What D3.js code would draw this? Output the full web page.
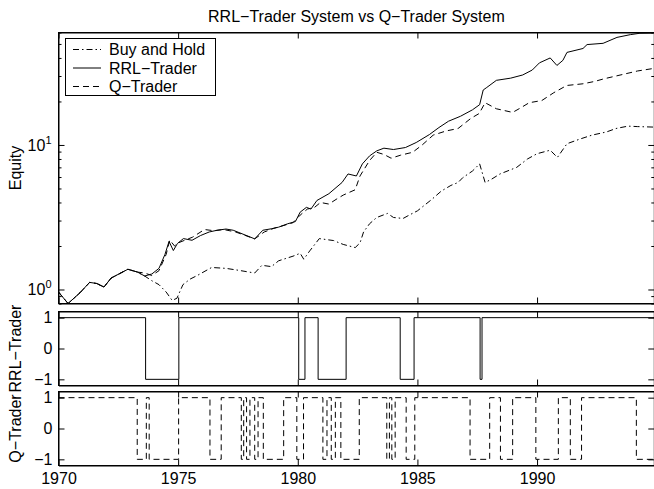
<!DOCTYPE html>
<html><head><meta charset="utf-8">
<script src="https://cdn.jsdelivr.net/npm/d3@7"></script>
<style>
body{margin:0;background:#fff}
text{font-family:"Liberation Sans",Arial,Helvetica,sans-serif;fill:#000}
</style>
</head><body>
<svg id="c" width="654" height="489"></svg>
<script>
// ---------- DATA ----------
const xTickYears = [1970, 1975, 1980, 1985, 1990];
const eqMajorTicks = [1, 10];
const eqMinorTicks = [0.8, 0.9, 2, 3, 4, 5, 6, 7, 8, 9, 20, 30, 40, 50, 60];
const posTicks = [-1, 0, 1];
const legendLabels = ["Buy and Hold", "RRL\u2212Trader", "Q\u2212Trader"];
const titleText = "RRL\u2212Trader System vs Q\u2212Trader System";

const bhYears = [1970.0,1970.4,1970.9,1971.3,1971.6,1971.9,1972.2,1972.9,1973.3,1973.6,1973.9,1974.2,1974.5,1974.75,1974.95,1975.2,1975.5,1975.8,1976.4,1977.0,1977.5,1977.85,1978.2,1978.5,1978.9,1979.2,1979.8,1980.1,1980.25,1980.5,1980.9,1981.5,1981.9,1982.4,1982.6,1982.75,1983.0,1983.3,1983.75,1984.0,1984.4,1984.7,1985.0,1985.6,1986.0,1986.4,1986.7,1986.9,1987.3,1987.6,1987.83,1988.1,1988.45,1989.15,1989.6,1990.0,1990.55,1990.85,1991.25,1991.8,1992.3,1992.9,1993.3,1993.8,1994.2,1994.85];
const bhEquity = [0.96,0.80,0.95,1.12,1.10,1.04,1.20,1.38,1.32,1.24,1.15,1.08,0.96,0.84,0.87,1.08,1.18,1.25,1.42,1.40,1.36,1.33,1.30,1.47,1.44,1.58,1.70,1.78,1.62,1.85,2.25,2.18,2.05,1.95,2.10,2.50,2.85,3.15,3.36,3.15,3.10,3.30,3.50,4.20,4.80,5.25,5.50,5.95,6.60,7.40,5.50,5.80,6.30,7.00,8.00,8.70,9.20,8.20,10.2,11.0,11.7,12.3,13.0,13.5,13.4,13.3];

const rrlYears = [1970.0,1970.4,1970.9,1971.3,1971.6,1971.9,1972.2,1972.9,1973.3,1973.6,1973.9,1974.2,1974.45,1974.62,1974.8,1974.97,1975.22,1975.58,1975.93,1976.3,1976.63,1977.0,1977.3,1977.67,1978.2,1978.54,1978.89,1979.2,1979.58,1979.9,1980.1,1980.36,1980.55,1980.8,1981.3,1981.85,1982.1,1982.45,1982.7,1983.0,1983.3,1983.6,1984.0,1984.5,1984.95,1985.5,1985.9,1986.3,1986.8,1987.3,1987.6,1987.75,1987.9,1988.3,1988.9,1989.4,1989.8,1990.1,1990.55,1990.83,1991.08,1991.25,1991.92,1992.09,1992.76,1993.34,1993.9,1994.3,1994.85];
const rrlEquity = [0.96,0.80,0.95,1.12,1.10,1.04,1.20,1.38,1.32,1.24,1.28,1.40,1.75,2.15,1.86,2.08,2.25,2.19,2.36,2.50,2.57,2.62,2.57,2.43,2.24,2.57,2.63,2.70,2.85,2.95,3.43,3.70,3.60,4.13,4.60,5.50,6.30,6.10,7.40,8.40,9.10,9.50,9.30,9.60,10.4,11.8,13.2,14.6,15.8,17.5,19.0,24.0,25.0,28.0,29.0,30.5,33.0,37.0,40.0,35.5,38.5,43.7,46.5,49.5,50.5,55.5,58.0,59.3,59.5];

const qYears = [1970.0,1970.4,1970.9,1971.3,1971.6,1971.9,1972.2,1972.9,1973.3,1973.6,1973.9,1974.2,1974.5,1974.65,1974.85,1975.0,1975.3,1975.6,1976.1,1976.5,1976.9,1977.4,1977.7,1978.2,1978.6,1979.0,1979.5,1979.8,1980.1,1980.4,1980.7,1980.95,1981.3,1981.6,1981.9,1982.4,1982.6,1982.8,1983.0,1983.3,1983.6,1983.9,1984.3,1984.8,1985.2,1985.66,1986.2,1986.7,1987.24,1987.58,1987.83,1988.3,1988.98,1989.3,1989.67,1990.2,1990.7,1991.24,1991.92,1992.4,1992.8,1993.67,1994.2,1994.85];
const qEquity = [0.96,0.80,0.95,1.12,1.10,1.04,1.20,1.38,1.32,1.30,1.25,1.35,1.75,2.20,2.00,2.10,2.20,2.30,2.60,2.55,2.60,2.50,2.40,2.24,2.50,2.65,2.80,2.90,3.27,3.60,3.70,4.00,3.90,4.20,4.50,4.90,6.10,6.90,7.80,8.90,8.60,8.10,8.50,8.90,10.0,11.7,12.5,13.0,15.3,16.5,19.6,17.8,16.8,18.0,19.6,20.3,23.0,25.8,26.5,27.5,28.7,31.0,32.5,33.8];

// positions: year at which each state begins, and the state (+1 long / -1 short)
const rrlSwitchYears = [1970.0,1973.64,1975.03,1980.04,1980.3,1980.85,1982.02,1984.28,1984.86,1987.62,1987.7,1994.9];
const rrlPosition   = [1,-1,1,-1,1,-1,1,-1,1,-1,1,1];
const qSwitchYears = [1970.0,1973.29,1973.67,1973.79,1975.02,1976.33,1976.8,1977.64,1977.74,1977.86,1978.0,1978.2,1978.34,1978.56,1979.41,1979.96,1980.24,1981.05,1981.22,1981.4,1981.57,1981.8,1982.57,1983.72,1983.83,1983.93,1984.07,1984.53,1984.89,1987.2,1988.02,1988.47,1988.98,1989.95,1990.89,1991.39,1991.86,1994.15,1994.9];
const qPosition   = [1,-1,1,-1,1,-1,1,-1,1,-1,1,-1,1,-1,1,-1,1,-1,1,-1,1,-1,1,-1,1,-1,1,-1,1,-1,1,-1,1,-1,1,-1,1,-1,-1];

// ---------- LAYOUT ----------
const svg = d3.select("#c");
const L = 58.5, R = 654.3;
const P1 = {y0: 32.5, y1: 303.5};
const P2 = {y0: 311.5, y1: 385.5};
const P3 = {y0: 391.5, y1: 465.5};
const FONT = 16;

const x = d3.scaleLinear().domain([1970, 1994.9]).range([L, R]);
const yEq = d3.scaleLog().domain([0.8, 60]).range([P1.y1, P1.y0]);
const yR = d3.scaleLinear().domain([-1.2, 1.2]).range([P2.y1, P2.y0]);
const yQ = d3.scaleLinear().domain([-1.2, 1.2]).range([P3.y1, P3.y0]);

const defs = svg.append("defs");
[["c1",P1],["c2",P2],["c3",P3]].forEach(([id,p]) => {
  defs.append("clipPath").attr("id", id).append("rect")
    .attr("x", L).attr("y", p.y0).attr("width", R - L).attr("height", p.y1 - p.y0);
});

function styleAxis(g){
  g.attr("font-family", null).attr("font-size", null);
  g.selectAll("path,line").attr("stroke", "#000").attr("stroke-width", 1);
  g.selectAll("text").style("font-size", FONT + "px");
}

function frame(p, yScale, yMajor, yMinor, showX){
  // x ticks bottom & top
  svg.append("g").attr("transform", `translate(0,${p.y1})`)
    .call(d3.axisBottom(x).tickValues(xTickYears).tickSizeInner(-6).tickSizeOuter(0)
      .tickPadding(7).tickFormat(showX ? d3.format("d") : () => ""))
    .call(styleAxis);
  svg.append("g").attr("transform", `translate(0,${p.y0})`)
    .call(d3.axisTop(x).tickValues(xTickYears).tickSizeInner(-6).tickSizeOuter(0).tickFormat(() => ""))
    .call(styleAxis);
  // y ticks left & right
  svg.append("g").attr("transform", `translate(${L},0)`)
    .call(d3.axisLeft(yScale).tickValues(yMajor).tickSizeInner(-6).tickSizeOuter(0).tickPadding(6)
      .tickFormat(yScale === yEq ? () => "" : (d => d < 0 ? "\u2212" + Math.abs(d) : String(d))))
    .call(styleAxis);
  svg.append("g").attr("transform", `translate(${R},0)`)
    .call(d3.axisRight(yScale).tickValues(yMajor).tickSizeInner(-6).tickSizeOuter(0).tickFormat(() => ""))
    .call(styleAxis);
  if (yMinor){
    svg.append("g").attr("transform", `translate(${L},0)`)
      .call(d3.axisLeft(yScale).tickValues(yMinor).tickSizeInner(-3).tickSizeOuter(0).tickFormat(() => ""))
      .call(styleAxis).select(".domain").remove();
    svg.append("g").attr("transform", `translate(${R},0)`)
      .call(d3.axisRight(yScale).tickValues(yMinor).tickSizeInner(-3).tickSizeOuter(0).tickFormat(() => ""))
      .call(styleAxis).select(".domain").remove();
  }
  svg.append("rect").attr("x", L).attr("y", p.y0).attr("width", R - L).attr("height", p.y1 - p.y0)
    .attr("fill", "none").attr("stroke", "#000").attr("stroke-width", 1);
}

// ---------- EQUITY PANEL ----------
const eqLine = d3.line().x(d => x(d[0])).y(d => yEq(d[1]));
const gEq = svg.append("g").attr("clip-path", "url(#c1)");
const styles = {
  bh: "6,3,1.5,3",
  rrl: null,
  q: "6,4"
};
gEq.append("path").datum(d3.zip(bhYears, bhEquity)).attr("d", eqLine)
  .attr("fill", "none").attr("stroke", "#000").attr("stroke-width", 1).attr("stroke-dasharray", styles.bh);
gEq.append("path").datum(d3.zip(qYears, qEquity)).attr("d", eqLine)
  .attr("fill", "none").attr("stroke", "#000").attr("stroke-width", 1).attr("stroke-dasharray", styles.q);
gEq.append("path").datum(d3.zip(rrlYears, rrlEquity)).attr("d", eqLine)
  .attr("fill", "none").attr("stroke", "#000").attr("stroke-width", 1);
frame(P1, yEq, eqMajorTicks, eqMinorTicks, false);

// log tick labels 10^0, 10^1
eqMajorTicks.forEach(v => {
  const t = svg.append("text").attr("x", L - 7).attr("y", yEq(v) + 6)
    .attr("text-anchor", "end").style("font-size", FONT + "px");
  t.append("tspan").text("10");
  t.append("tspan").attr("dy", -7).style("font-size", "11px").text(String(Math.round(Math.log10(v))));
});

// ---------- POSITION PANELS ----------
const posLineR = d3.line().x(d => x(d[0])).y(d => yR(d[1])).curve(d3.curveStepAfter);
const posLineQ = d3.line().x(d => x(d[0])).y(d => yQ(d[1])).curve(d3.curveStepAfter);
svg.append("g").attr("clip-path", "url(#c2)").append("path")
  .datum(d3.zip(rrlSwitchYears, rrlPosition)).attr("d", posLineR)
  .attr("fill", "none").attr("stroke", "#000").attr("stroke-width", 1);
svg.append("g").attr("clip-path", "url(#c3)").append("path")
  .datum(d3.zip(qSwitchYears, qPosition)).attr("d", posLineQ)
  .attr("fill", "none").attr("stroke", "#000").attr("stroke-width", 1).attr("stroke-dasharray", styles.q);
frame(P2, yR, posTicks, null, false);
frame(P3, yQ, posTicks, null, true);

// ---------- LEGEND ----------
const lg = svg.append("g");
lg.append("rect").attr("x", 65.5).attr("y", 38.5).attr("width", 150).attr("height", 57)
  .attr("fill", "#fff").attr("stroke", "#000").attr("stroke-width", 1);
const legendDash = [styles.bh, styles.rrl, styles.q];
const legendY = [49.5, 68, 86.5];
legendLabels.forEach((lab, i) => {
  lg.append("line").attr("x1", 73).attr("x2", 101).attr("y1", legendY[i]).attr("y2", legendY[i])
    .attr("stroke", "#000").attr("stroke-width", 1).attr("stroke-dasharray", legendDash[i]);
  lg.append("text").attr("x", 109).attr("y", legendY[i] + 5.5).style("font-size", FONT + "px").text(lab);
});

// ---------- TITLES ----------
svg.append("text").attr("x", (L + R) / 2).attr("y", 22).attr("text-anchor", "middle")
  .style("font-size", FONT + "px").text(titleText);
function ylab(txt, p){
  const cy = (p.y0 + p.y1) / 2;
  svg.append("text").attr("transform", `translate(21,${cy}) rotate(-90)`)
    .attr("text-anchor", "middle").style("font-size", FONT + "px").text(txt);
}
ylab("Equity", P1);
ylab("RRL\u2212Trader", P2);
ylab("Q\u2212Trader", P3);
</script>
</body></html>
